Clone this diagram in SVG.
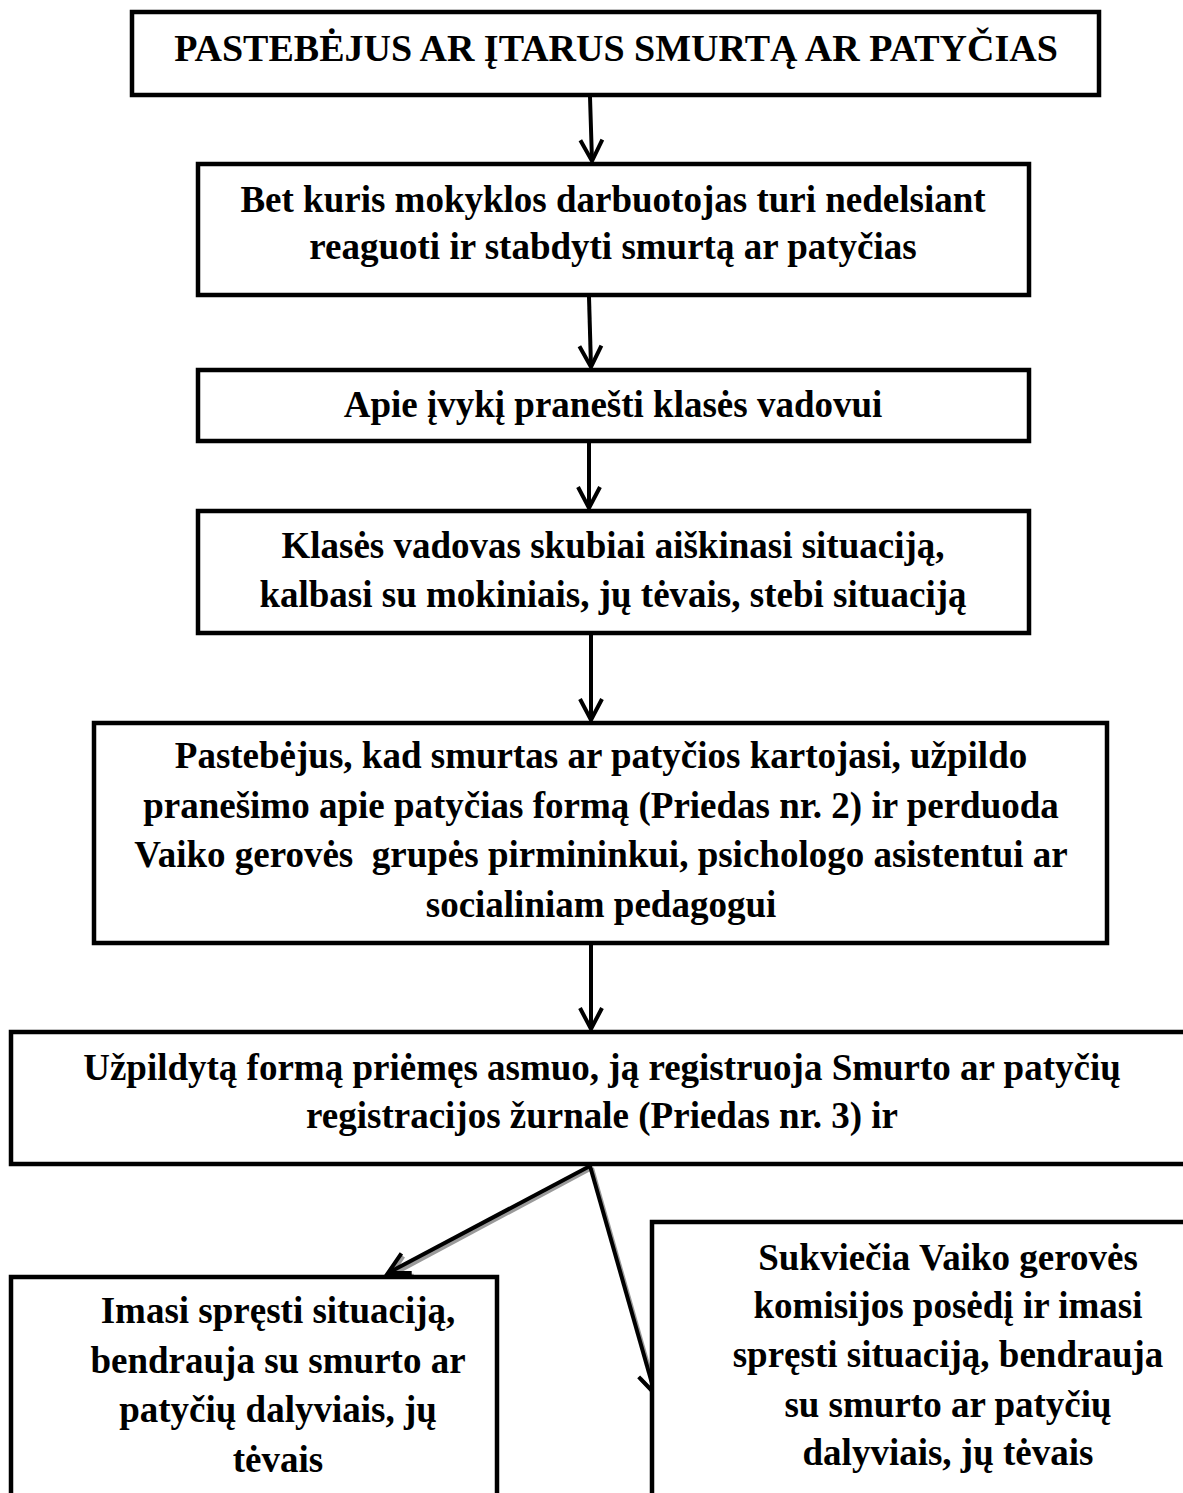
<svg xmlns="http://www.w3.org/2000/svg" width="1183" height="1493" viewBox="0 0 1183 1493">
<style>
.box{fill:#fff;stroke:#000;stroke-width:4.5}
.t{font-family:"Liberation Serif","Times New Roman",serif;font-weight:bold;font-size:37px;fill:#000;text-anchor:middle}
.title{font-size:38px}
.c{stroke:#000;stroke-width:4;fill:none}
.sh{stroke:#9a9a9a;stroke-width:4;fill:none}
</style>
<defs>
<marker id="ah" markerUnits="userSpaceOnUse" markerWidth="40" markerHeight="40" refX="22" refY="11" orient="auto" overflow="visible">
<path d="M1,0 L22,11 L1,22" fill="none" stroke="#000" stroke-width="4"/>
</marker>
<marker id="ahs" markerUnits="userSpaceOnUse" markerWidth="40" markerHeight="40" refX="22" refY="11" orient="auto" overflow="visible">
<path d="M1,0 L22,11 L1,22" fill="none" stroke="#9a9a9a" stroke-width="4"/>
</marker>
</defs>
<rect width="1183" height="1493" fill="#fff"/>
<g id="connectors">
<line class="c" x1="590" y1="97" x2="592" y2="161" marker-end="url(#ah)"/>
<line class="c" x1="589" y1="297" x2="591" y2="367" marker-end="url(#ah)"/>
<line class="c" x1="589" y1="443" x2="589" y2="508" marker-end="url(#ah)"/>
<line class="c" x1="591" y1="635" x2="591" y2="720" marker-end="url(#ah)"/>
<line class="c" x1="591" y1="945" x2="591" y2="1029" marker-end="url(#ah)"/>
<line class="sh" x1="592" y1="1168" x2="390" y2="1276" marker-end="url(#ahs)"/>
<line class="sh" x1="592" y1="1168" x2="657" y2="1396" marker-end="url(#ahs)"/>
<line class="c" x1="590" y1="1166" x2="388" y2="1273" marker-end="url(#ah)"/>
<line class="c" x1="590" y1="1166" x2="655" y2="1394" marker-end="url(#ah)"/>
</g>
<g id="n1">
<rect class="box" x="132" y="12" width="967" height="83"/>
<text class="t title" x="616" y="61">PASTEBĖJUS AR ĮTARUS SMURTĄ AR PATYČIAS</text>
</g>
<g id="n2">
<rect class="box" x="198" y="164" width="831" height="131"/>
<text class="t" x="613" y="212">Bet kuris mokyklos darbuotojas turi nedelsiant</text>
<text class="t" x="613" y="259">reaguoti ir stabdyti smurtą ar patyčias</text>
</g>
<g id="n3">
<rect class="box" x="198" y="370" width="831" height="71"/>
<text class="t" x="613" y="417">Apie įvykį pranešti klasės vadovui</text>
</g>
<g id="n4">
<rect class="box" x="198" y="511" width="831" height="122"/>
<text class="t" x="613" y="558">Klasės vadovas skubiai aiškinasi situaciją,</text>
<text class="t" x="613" y="607">kalbasi su mokiniais, jų tėvais, stebi situaciją</text>
</g>
<g id="n5">
<rect class="box" x="94" y="723" width="1013" height="220"/>
<text class="t" x="601" y="768">Pastebėjus, kad smurtas ar patyčios kartojasi, užpildo</text>
<text class="t" x="601" y="818">pranešimo apie patyčias formą (Priedas nr. 2) ir perduoda</text>
<text class="t" x="601" y="867" xml:space="preserve">Vaiko gerovės  grupės pirmininkui, psichologo asistentui ar</text>
<text class="t" x="601" y="917">socialiniam pedagogui</text>
</g>
<g id="n6">
<rect class="box" x="11" y="1032" width="1200" height="132"/>
<text class="t" x="602" y="1080">Užpildytą formą priėmęs asmuo, ją registruoja Smurto ar patyčių</text>
<text class="t" x="602" y="1128">registracijos žurnale (Priedas nr. 3) ir</text>
</g>
<g id="n7">
<rect class="box" x="11" y="1277" width="486" height="240"/>
<text class="t" x="278" y="1323">Imasi spręsti situaciją,</text>
<text class="t" x="278" y="1373">bendrauja su smurto ar</text>
<text class="t" x="278" y="1422">patyčių dalyviais, jų</text>
<text class="t" x="278" y="1472">tėvais</text>
</g>
<g id="n8">
<rect class="box" x="652" y="1222" width="600" height="300"/>
<text class="t" x="948" y="1270">Sukviečia Vaiko gerovės</text>
<text class="t" x="948" y="1318">komisijos posėdį ir imasi</text>
<text class="t" x="948" y="1367">spręsti situaciją, bendrauja</text>
<text class="t" x="948" y="1417">su smurto ar patyčių</text>
<text class="t" x="948" y="1465">dalyviais, jų tėvais</text>
</g>
</svg>
